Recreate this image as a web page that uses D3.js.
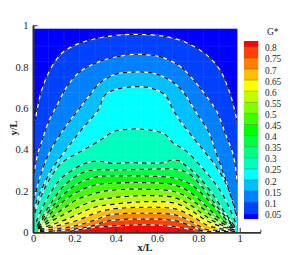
<!DOCTYPE html>
<html lang="en">
<head>
    <meta charset="UTF-8">
    <script src="https://cdnjs.cloudflare.com/ajax/libs/d3/7.8.5/d3.min.js"></script>
    <title>G* contours</title>
    <style>
        body { margin: 0; background: white; }
        svg { display: block; }
        text { font-family: 'Liberation Serif', serif; fill: #222; }
    </style>
</head>
<body>
<svg></svg>
<script>
    const levels = [0.05, 0.1, 0.15, 0.2, 0.25, 0.3, 0.35, 0.4, 0.45, 0.5, 0.55, 0.6, 0.65, 0.7, 0.75, 0.8]
    const levelLabels = ['0.05', '0.1', '0.15', '0.2', '0.25', '0.3', '0.35', '0.4', '0.45', '0.5', '0.55', '0.6', '0.65', '0.7', '0.75', '0.8']
    const bandColors = ['#0000ff', '#0040ff', '#0080ff', '#00bfff', '#00ffff', '#00ffbf', '#00ff80', '#00ff40', '#00ff00',
        '#40ff00', '#80ff00', '#bfff00', '#ffff00', '#ffbf00', '#ff8000', '#ff4000', '#ff0000']
    const majorTicks = [0, 0.2, 0.4, 0.6, 0.8, 1]
    const minorTicksX = [0.1, 0.3, 0.5, 0.7, 0.9, 1.1]
    const minorTicksY = [0.1, 0.3, 0.5, 0.7, 0.9]
    const meshX = [0.075, 0.15, 0.225, 0.3, 0.375, 0.45, 0.525, 0.6, 0.675, 0.75, 0.825, 0.9]
    const meshY = [0.075, 0.15, 0.225, 0.3, 0.375, 0.45, 0.525, 0.6, 0.675, 0.75, 0.825, 0.9]

    // contour lines, [x/L, y/L]
    const c05 = [[.01,.54],[.042,.687],[.082,.784],[.139,.865],[.211,.908],[.324,.94],[.485,.956],[.63,.948],[.744,.916],[.84,.857],[.905,.784],[.953,.671],[.988,.534]]
    const c10 = [[.005,.286],[.024,.383],[.04,.431],[.073,.528],[.121,.624],[.165,.705],[.227,.776],[.324,.826],[.405,.848],[.485,.86],[.566,.856],[.63,.844],[.711,.802],[.776,.736],[.848,.645],[.889,.585],[.929,.48],[.969,.373],[.988,.238]]
    const c15 = [[.003,.156],[.016,.204],[.04,.286],[.081,.388],[.153,.504],[.226,.6],[.282,.672],[.324,.722],[.405,.765],[.485,.774],[.566,.771],[.63,.752],[.711,.696],[.792,.575],[.847,.489],[.89,.373],[.929,.262],[.963,.156],[.987,.069]]
    const c20 = [[.003,.099],[.011,.132],[.04,.204],[.089,.301],[.153,.389],[.233,.494],[.316,.591],[.348,.663],[.405,.691],[.485,.703],[.566,.698],[.639,.663],[.671,.606],[.703,.55],[.752,.486],[.824,.397],[.897,.301],[.953,.19],[.986,.079]]
    const c25 = [[.008,.093],[.032,.156],[.073,.244],[.137,.333],[.242,.397],[.292,.425],[.34,.454],[.388,.486],[.485,.499],[.566,.494],[.639,.473],[.679,.43],[.735,.397],[.84,.286],[.913,.19],[.961,.093],[.985,.035]]
    const c30 = [[.016,.051],[.048,.124],[.088,.196],[.137,.261],[.234,.325],[.282,.341],[.339,.341],[.387,.333],[.469,.336],[.63,.336],[.671,.349],[.711,.344],[.735,.325],[.784,.285],[.865,.19],[.929,.093],[.977,.027]]
    const c35 = [[.021,.035],[.057,.093],[.097,.156],[.153,.228],[.234,.285],[.299,.301],[.387,.301],[.542,.304],[.687,.304],[.751,.285],[.824,.213],[.897,.116],[.977,.024]]
    const c40 = [[.019,.028],[.097,.127],[.153,.188],[.234,.244],[.314,.269],[.387,.272],[.542,.272],[.687,.261],[.768,.228],[.84,.164],[.905,.092],[.977,.021]]
    const c45 = [[.024,.026],[.097,.103],[.145,.148],[.218,.196],[.299,.228],[.387,.237],[.542,.24],[.687,.228],[.768,.188],[.84,.124],[.905,.064],[.977,.02]]
    const c50 = [[.024,.021],[.097,.076],[.145,.113],[.209,.156],[.299,.188],[.387,.204],[.542,.208],[.687,.196],[.768,.156],[.84,.099],[.905,.05],[.977,.016]]
    const c55 = [[.024,.018],[.082,.05],[.145,.084],[.218,.121],[.299,.153],[.387,.167],[.542,.177],[.687,.167],[.768,.127],[.84,.075],[.905,.038],[.977,.014]]
    const c60 = [[.024,.016],[.082,.033],[.153,.059],[.218,.088],[.299,.121],[.387,.135],[.542,.148],[.687,.14],[.768,.103],[.84,.056],[.905,.03],[.977,.011]]
    const c65 = [[.034,.014],[.111,.03],[.218,.059],[.299,.092],[.373,.111],[.542,.121],[.687,.113],[.768,.079],[.84,.035],[.905,.018],[.977,.009]]
    const c70 = [[.034,.009],[.131,.018],[.218,.035],[.299,.059],[.373,.084],[.542,.092],[.687,.084],[.768,.051],[.832,.016],[.905,.009],[.977,.006]]
    const c75 = [[.034,.004],[.106,.006],[.203,.016],[.282,.03],[.373,.056],[.542,.064],[.687,.056],[.768,.03],[.824,.006],[.881,.004],[.977,.003]]
    const c80 = [[.179,.004],[.276,.021],[.373,.03],[.484,.035],[.6,.035],[.711,.023],[.784,.011]]
    const contours = [c05, c10, c15, c20, c25, c30, c35, c40, c45, c50, c55, c60, c65, c70, c75, c80]

    const w = 291, h = 255
    const xMax = 0.99, yMax = 0.985

    const xScale = d3.scaleLinear().domain([0, 1.1]).range([33, 260.4])
    const yScale = d3.scaleLinear().domain([0, 1]).range([232.3, 25.3])
    const barScale = d3.scaleLinear().domain([0.05, 0.8]).range([213.3, 46.8])

    const svg = d3.select('svg').attr('width', w).attr('height', h)

    svg.append('clipPath').attr('id', 'plot')
        .append('rect')
        .attr('x', xScale(0))
        .attr('y', yScale(yMax))
        .attr('width', xScale(xMax) - xScale(0))
        .attr('height', yScale(0) - yScale(yMax))

    const plot = svg.append('g').attr('clip-path', 'url(#plot)')

    plot.append('rect')
        .attr('x', xScale(0))
        .attr('y', yScale(yMax))
        .attr('width', xScale(xMax) - xScale(0))
        .attr('height', yScale(0) - yScale(yMax))
        .attr('fill', bandColors[0])

    const line = d3.line()
        .x(d => xScale(d[0]))
        .y(d => yScale(d[1]))
        .curve(d3.curveCatmullRom.alpha(0.5))

    // filled bands, low to high, each closed along the bottom edge
    plot.selectAll('path.band')
        .data(contours)
        .enter()
        .append('path')
        .attr('class', 'band')
        .attr('d', d => {
            const first = d[0], last = d[d.length - 1]
            return line(d) + 'L' + xScale(last[0]) + ',' + yScale(0) + 'L' + xScale(first[0]) + ',' + yScale(0) + 'Z'
        })
        .attr('fill', (d, i) => bandColors[i + 1])

    // faint mesh lines
    plot.selectAll('line.meshx')
        .data(meshX)
        .enter()
        .append('line')
        .attr('x1', d => xScale(d)).attr('x2', d => xScale(d))
        .attr('y1', yScale(0)).attr('y2', yScale(yMax))
        .attr('stroke', 'white').attr('stroke-opacity', 0.07)

    plot.selectAll('line.meshy')
        .data(meshY)
        .enter()
        .append('line')
        .attr('y1', d => yScale(d)).attr('y2', d => yScale(d))
        .attr('x1', xScale(0)).attr('x2', xScale(xMax))
        .attr('stroke', 'white').attr('stroke-opacity', 0.07)

    // contour lines, white under black dashes
    plot.selectAll('path.under')
        .data(contours)
        .enter()
        .append('path')
        .attr('d', line)
        .attr('fill', 'none')
        .attr('stroke', 'white')
        .attr('stroke-width', 1.2)

    plot.selectAll('path.dash')
        .data(contours)
        .enter()
        .append('path')
        .attr('d', line)
        .attr('fill', 'none')
        .attr('stroke', '#111')
        .attr('stroke-width', 1.2)
        .attr('stroke-dasharray', '4.5,4')

    // axes
    const styleAxis = (g) => {
        g.select('.domain').attr('stroke', '#333').attr('stroke-width', 1.6)
        g.selectAll('line').attr('stroke', '#333').attr('stroke-width', 1)
        g.selectAll('text').attr('font-size', 10.5).attr('fill', '#222')
    }

    svg.append('g')
        .attr('transform', 'translate(0,' + yScale(0) + ')')
        .call(d3.axisBottom(xScale).tickValues(minorTicksX).tickSize(-2.5).tickSizeOuter(0).tickFormat(''))
        .call(styleAxis)

    svg.append('g')
        .attr('transform', 'translate(0,' + yScale(0) + ')')
        .call(d3.axisBottom(xScale).tickValues(majorTicks).tickSize(-4.5).tickSizeOuter(0).tickPadding(6).tickFormat(d => d))
        .call(styleAxis)
        .call(g => g.selectAll('text').attr('dy', '0.6em').attr('y', 3.5))

    svg.append('g')
        .attr('transform', 'translate(' + xScale(0) + ',0)')
        .call(d3.axisLeft(yScale).tickValues(minorTicksY).tickSize(-2.5).tickSizeOuter(0).tickFormat(''))
        .call(styleAxis)

    svg.append('g')
        .attr('transform', 'translate(' + xScale(0) + ',0)')
        .call(d3.axisLeft(yScale).tickValues(majorTicks).tickSize(-4.5).tickSizeOuter(0).tickPadding(4.5).tickFormat(d => d))
        .call(styleAxis)
        .call(g => g.selectAll('text').attr('x', -4.5))

    svg.append('text')
        .attr('x', 145)
        .attr('y', 251)
        .attr('text-anchor', 'middle')
        .attr('font-size', 10.5)
        .attr('font-weight', 'bold')
        .text('x/L')

    svg.append('text')
        .attr('transform', 'translate(17,128) rotate(-90)')
        .attr('text-anchor', 'middle')
        .attr('font-size', 10.5)
        .attr('font-weight', 'bold')
        .text('y/L')

    // colour bar
    const barEdges = [0.024].concat(levels, [0.826])
    svg.selectAll('rect.swatch')
        .data(bandColors)
        .enter()
        .append('rect')
        .attr('class', 'swatch')
        .attr('x', 244)
        .attr('width', 14.3)
        .attr('y', (d, i) => barScale(barEdges[i + 1]))
        .attr('height', (d, i) => barScale(barEdges[i]) - barScale(barEdges[i + 1]))
        .attr('fill', d => d)

    svg.selectAll('line.swatchline')
        .data(levels)
        .enter()
        .append('line')
        .attr('x1', 244).attr('x2', 258.3)
        .attr('y1', d => barScale(d)).attr('y2', d => barScale(d))
        .attr('stroke', 'black').attr('stroke-opacity', 0.25)

    svg.selectAll('text.level')
        .data(levelLabels)
        .enter()
        .append('text')
        .attr('x', 265)
        .attr('y', (d, i) => barScale(levels[i]) + 4.5)
        .attr('font-size', 9.3)
        .text(d => d)

    svg.append('text')
        .attr('x', 267)
        .attr('y', 35)
        .attr('font-size', 9.5)
        .text('G*')
</script>
</body>
</html>
